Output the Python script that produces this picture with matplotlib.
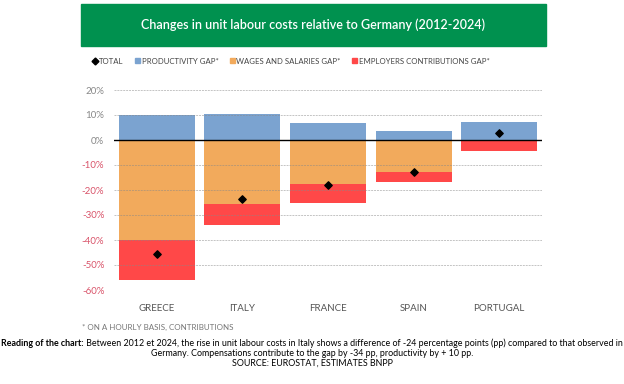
import matplotlib.pyplot as plt
from matplotlib.patches import Patch, Rectangle
from matplotlib.lines import Line2D
import numpy as np

plt.rcParams['font.family'] = ['Lato', 'DejaVu Sans']

countries = ["GREECE", "ITALY", "FRANCE", "SPAIN", "PORTUGAL"]
productivity = [10.0, 10.5, 7.0, 3.7, 7.3]
wages = [-40.0, -25.5, -17.6, -12.8, 0.0]
employers = [-16.0, -8.5, -7.6, -3.9, -4.3]
total = [-45.7, -23.5, -18.0, -12.8, 3.0]
yticks = [20, 10, 0, -10, -20, -30, -40, -50, -60]

c_prod = "#7ba3d0"
c_wage = "#f2aa5c"
c_emp = "#ff4848"
green = "#00914f"

fig = plt.figure(figsize=(6.24, 3.84), dpi=100)
ax = fig.add_axes([114 / 624, 1 - 290 / 384, 428 / 624, 200 / 384])

x = np.arange(len(countries))
w = 0.89
ax.bar(x, productivity, w, color=c_prod, zorder=1)
ax.bar(x, wages, w, color=c_wage, zorder=1)
ax.bar(x, employers, w, bottom=wages, color=c_emp, zorder=1)
ax.scatter(x, total, marker="D", s=14, color="black", zorder=4)

ax.set_xlim(-0.5, 4.5)
ax.set_ylim(-60, 20)
ax.set_yticks(yticks)
ax.set_yticklabels([f"{v}%" for v in yticks], fontsize=7)
for lab, v in zip(ax.get_yticklabels(), yticks):
    lab.set_color("#d9546a" if v < 0 else "#888888")
for v in yticks:
    if v != 0:
        ax.axhline(v, color="#888888", lw=0.7, ls=(0, (2, 1)), alpha=0.5, zorder=2)
ax.axhline(0, color="black", lw=1.0, zorder=3)
ax.tick_params(axis="y", length=0, pad=7)
ax.set_xticks(x)
ax.set_xticklabels(countries, fontsize=7, color="#555555")
ax.tick_params(axis="x", length=0, pad=10)
for s in ax.spines.values():
    s.set_visible(False)

# title banner
fig.patches.append(Rectangle((81 / 624, 1 - 46 / 384), 465 / 624, 42 / 384,
                             transform=fig.transFigure, color=green, zorder=0))
fig.text(313 / 624, 1 - 25 / 384, "Changes in unit labour costs relative to Germany (2012-2024)",
         color="white", fontsize=9, fontweight="semibold", ha="center", va="center")

handles = [
    Line2D([], [], marker="D", color="black", ls="none", markersize=3.5),
    Patch(color=c_prod), Patch(color=c_wage), Patch(color=c_emp),
]
labels = ["TOTAL", "PRODUCTIVITY GAP*", "WAGES AND SALARIES GAP*",
          "EMPLOYERS CONTRIBUTIONS GAP*"]
fig.legend(handles, labels, loc="center left", bbox_to_anchor=(86 / 624, 1 - 61 / 384),
           ncol=4, frameon=False, fontsize=5.6, handlelength=0.6, handleheight=0.6,
           handletextpad=0.2, columnspacing=1.5, labelcolor="#444444")

fig.text(82 / 624, 1 - 327 / 384, "* ON A HOURLY BASIS, CONTRIBUTIONS",
         fontsize=5.8, color="#777777", va="center")

# reading note, first line with bold lead
fig.canvas.draw()
r = fig.canvas.get_renderer()
t1 = fig.text(0, 1 - 343 / 384, "Reading of the chart:", fontsize=6.4,
              fontweight="bold", va="center")
t2 = fig.text(0, 1 - 343 / 384,
              " Between 2012 et 2024, the rise in unit labour costs in Italy shows a difference of -24 "
              "percentage points (pp) compared to that observed in",
              fontsize=6.4, va="center")
w1 = t1.get_window_extent(r).width
w2 = t2.get_window_extent(r).width
start = (624 - w1 - w2) / 2
t1.set_x(start / 624)
t2.set_x((start + w1) / 624)
fig.text(312 / 624, 1 - 353 / 384,
         "Germany. Compensations contribute to the gap by -34 pp, productivity by + 10 pp.",
         fontsize=6.4, ha="center", va="center")
fig.text(312 / 624, 1 - 363 / 384, "SOURCE: EUROSTAT, ESTIMATES BNPP",
         fontsize=6.4, ha="center", va="center")

fig.savefig("out.png", dpi=100)
